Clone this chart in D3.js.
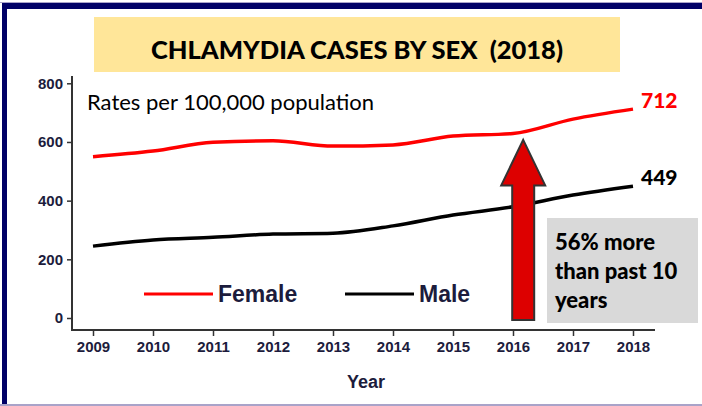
<!DOCTYPE html>
<meta charset="utf-8">
<body>
<script src="https://cdn.jsdelivr.net/npm/d3@7"></script>
<style>
    html, body {
        margin: 0;
        background: #fff;
    }
    .tick text {
        font-family: "Liberation Sans", Arial, sans-serif;
        font-weight: bold;
        font-size: 15px;
        fill: #1c1c3c;
    }
</style>
<script>
var years = [2009, 2010, 2011, 2012, 2013, 2014, 2015, 2016, 2017, 2018],
    female = [550, 569, 599, 604, 586, 590, 620, 629, 678, 712],
    male = [245, 266, 275, 286, 289, 314, 351, 379, 419, 449],
    yTicks = [0, 200, 400, 600, 800];

var width = 702,
    height = 406,
    calibri = "Lato, 'Open Sans', sans-serif",
    arial = "'Liberation Sans', Arial, sans-serif";

var svg = d3.select("body").append("svg")
    .attr("width", width)
    .attr("height", height);

// frame
svg.append("rect").attr("x", 0).attr("y", 0).attr("width", width).attr("height", height).attr("fill", "#fff");
svg.append("rect").attr("x", 0).attr("y", 2).attr("width", width).attr("height", 1).attr("fill", "#a9a3c9");
svg.append("rect").attr("x", 2).attr("y", 3).attr("width", width).attr("height", 6).attr("fill", "#000066");
svg.append("rect").attr("x", 2).attr("y", 3).attr("width", 5).attr("height", height).attr("fill", "#000066");
svg.append("rect").attr("x", 0).attr("y", 404).attr("width", width).attr("height", 2).attr("fill", "#a9a3c9");

// title
svg.append("rect").attr("x", 94).attr("y", 17).attr("width", 526).attr("height", 55).attr("fill", "#ffe699");
svg.append("text")
    .attr("x", 357).attr("y", 59)
    .attr("text-anchor", "middle")
    .style("white-space", "pre")
    .style("font-family", calibri).style("font-weight", "900").style("font-size", "25.5px")
    .text("CHLAMYDIA CASES BY SEX  (2018)");

var x = d3.scaleLinear().domain([2009, 2018]).range([93, 633]),
    y = d3.scaleLinear().domain([0, 800]).range([318, 83.3]);

// axes
svg.append("line").attr("x1", 72).attr("x2", 72).attr("y1", 76).attr("y2", 331)
    .attr("stroke", "#333").attr("stroke-width", 2);
svg.append("line").attr("x1", 71).attr("x2", 655).attr("y1", 330).attr("y2", 330)
    .attr("stroke", "#333").attr("stroke-width", 2);

svg.append("g")
    .attr("transform", "translate(72,0)")
    .call(d3.axisLeft(y).tickValues(yTicks).tickSize(5).tickPadding(4))
    .call(function(g) { g.select(".domain").remove(); })
    .call(function(g) { g.selectAll(".tick line").attr("stroke", "#333").attr("stroke-width", 1.5); });

svg.append("g")
    .attr("transform", "translate(0,330)")
    .call(d3.axisBottom(x).tickValues(years).tickFormat(d3.format("d")).tickSize(6).tickPadding(5))
    .call(function(g) { g.select(".domain").remove(); })
    .call(function(g) { g.selectAll(".tick line").attr("stroke", "#333").attr("stroke-width", 1.5); });

svg.append("text")
    .attr("x", 366).attr("y", 388)
    .attr("text-anchor", "middle")
    .style("font-family", arial).style("font-weight", "bold").style("font-size", "18px")
    .attr("fill", "#1c1c3c")
    .text("Year");

svg.append("text")
    .attr("x", 87).attr("y", 110)
    .style("font-family", calibri).style("font-size", "22px")
    .text("Rates per 100,000 population");

// lines
var line = d3.line()
    .x(function(d, i) { return x(years[i]); })
    .y(function(d) { return y(d); })
    .curve(d3.curveMonotoneX);

svg.append("path").datum(female)
    .attr("d", line).attr("fill", "none").attr("stroke", "#ff0000").attr("stroke-width", 3.5);
svg.append("path").datum(male)
    .attr("d", line).attr("fill", "none").attr("stroke", "#000").attr("stroke-width", 3.5);

svg.append("text")
    .attr("x", 641).attr("y", y(female[9]) - 1)
    .attr("fill", "#ff0000")
    .style("font-family", calibri).style("font-weight", "900").style("font-size", "21px")
    .text(female[9]);
svg.append("text")
    .attr("x", 641).attr("y", y(male[9]) - 1)
    .attr("fill", "#000")
    .style("font-family", calibri).style("font-weight", "900").style("font-size", "21px")
    .text(male[9]);

// legend
var legend = [{name: "Female", color: "#ff0000", x: 144}, {name: "Male", color: "#000", x: 345}];
var lg = svg.selectAll(".legend").data(legend).enter().append("g")
    .attr("transform", function(d) { return "translate(" + d.x + ",294)"; });
lg.append("line").attr("x1", 0).attr("x2", 69).attr("stroke", function(d) { return d.color; }).attr("stroke-width", 3);
lg.append("text").attr("x", 74).attr("y", 8)
    .style("font-family", arial).style("font-weight", "bold").style("font-size", "23px")
    .attr("fill", "#1c1c3c")
    .text(function(d) { return d.name; });

// arrow
var ax = x(2016.17), tipY = y(607), headY = y(452), baseY = y(-7);
var arrow = [[ax, tipY], [ax + 22, headY], [ax + 11, headY], [ax + 11, baseY],
             [ax - 11, baseY], [ax - 11, headY], [ax - 22, headY]];
svg.append("path")
    .attr("d", d3.line()(arrow) + "Z")
    .attr("fill", "#dd0000").attr("stroke", "#333").attr("stroke-width", 2);

// note box
svg.append("rect").attr("x", 547).attr("y", 218).attr("width", 151).attr("height", 105).attr("fill", "#d9d9d9");
var note = svg.append("text")
    .style("font-family", calibri).style("font-weight", "900").style("font-size", "22px");
["56% more", "than past 10", "years"].forEach(function(t, i) {
    note.append("tspan").attr("x", 555).attr("y", 250 + i * 29).text(t);
});
</script>
